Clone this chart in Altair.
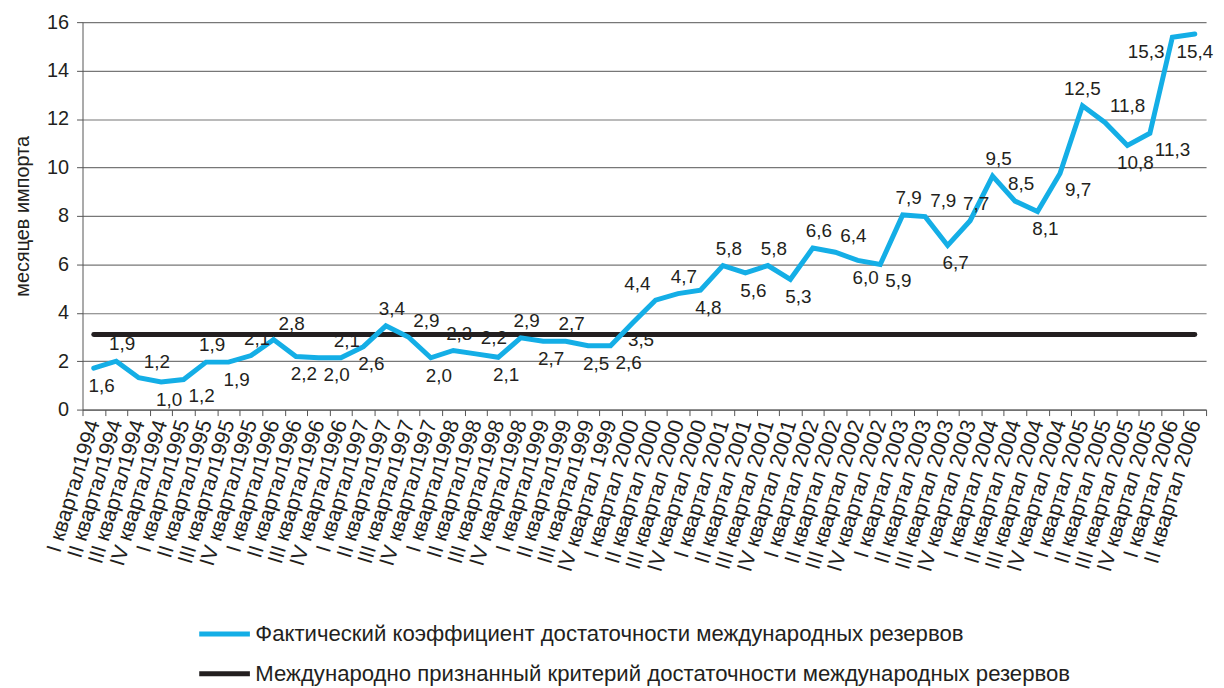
import altair as alt
import pandas as pd

quarters = [
    "I квартал1994", "II квартал1994", "III квартал1994", "IV квартал1994",
    "I квартал1995", "II квартал1995", "III квартал1995", "IV квартал1995",
    "I квартал1996", "II квартал1996", "III квартал1996", "IV квартал1996",
    "I квартал1997", "II квартал1997", "III квартал1997", "IV квартал1997",
    "I квартал1998", "II квартал1998", "III квартал1998", "IV квартал1998",
    "I квартал1999", "II квартал1999", "III квартал1999", "IV квартал 1999",
    "I квартал 2000", "II квартал 2000", "III квартал 2000", "IV квартал 2000",
    "I квартал 2001", "II квартал 2001", "III квартал 2001", "IV квартал 2001",
    "I квартал 2002", "II квартал 2002", "III квартал 2002", "IV квартал 2002",
    "I квартал 2003", "II квартал 2003", "III квартал 2003", "IV квартал 2003",
    "I квартал 2004", "II квартал 2004", "III квартал 2004", "IV квартал 2004",
    "I квартал 2005", "II квартал 2005", "III квартал 2005", "IV квартал 2005",
    "I квартал 2006", "II квартал 2006",
]

actual = [
    1.71, 2.00, 1.32, 1.14, 1.24, 1.96, 1.96, 2.23, 2.89, 2.19,
    2.14, 2.14, 2.60, 3.46, 3.00, 2.14, 2.44, 2.30, 2.16, 2.96,
    2.82, 2.82, 2.64, 2.64, 3.60, 4.52, 4.79, 4.93, 5.95, 5.65,
    5.95, 5.38, 6.67, 6.50, 6.16, 5.99, 8.04, 7.97, 6.78, 7.80,
    9.64, 8.61, 8.18, 9.75, 12.55, 11.86, 10.91, 11.41, 15.38, 15.51,
]

labels = [
    "1,6", "1,9", "1,2", "1,0", "1,2", "1,9", "1,9", "2,1", "2,8", "2,2",
    "2,0", "2,1", "2,6", "3,4", "2,9", "2,0", "2,3", "2,2", "2,1", "2,9",
    "2,7", "2,7", "2,5", "2,6", "3,5", "4,4", "4,7", "4,8", "5,8", "5,6",
    "5,8", "5,3", "6,6", "6,4", "6,0", "5,9", "7,9", "7,9", "6,7", "7,7",
    "9,5", "8,5", "8,1", "9,7", "12,5", "11,8", "10,8", "11,3", "15,3", "15,4",
]

# label placement relative to its point (u = above, d = below, r/l = shifted side)
label_pos = [
    "d", "u", "ur", "d", "r", "u", "d", "u", "ur", "d",
    "r", "u", "d", "u", "ur", "d", "u", "ur", "d", "u",
    "d", "u", "d", "r", "d", "ul", "u", "d", "u", "d",
    "u", "d", "u", "ur", "d", "r", "u", "ur", "d", "u",
    "u", "u", "d", "r", "uc", "ur", "d", "r", "l", "c",
]

criterion = [3.1] * len(quarters)

SERIES_A = "Фактический коэффициент достаточности международных резервов"
SERIES_B = "Международно признанный критерий достаточности международных резервов"
BLUE = "#14aee6"
DARK = "#231f20"
FONT = "Liberation Sans"

df_a = pd.DataFrame({"q": quarters, "v": actual, "lab": labels, "pos": label_pos, "s": SERIES_A})
df_b = pd.DataFrame({"q": quarters, "v": criterion, "s": SERIES_B})

x_enc = alt.X(
    "q:N",
    sort=quarters,
    scale=alt.Scale(type="band", paddingInner=0, paddingOuter=0),
    axis=alt.Axis(
        title=None,
        labelAngle=287,
        labelFontSize=21.5,
        labelColor=DARK,
        labelPadding=5,
        tickBand="extent",
        grid=False,
        tickSize=6,
        tickColor="#555",
        domainColor="#555",
        labelFont=FONT,
    ),
)

y_enc = alt.Y(
    "v:Q",
    scale=alt.Scale(domain=[0, 16], nice=False),
    axis=alt.Axis(
        title="месяцев импорта",
        titleFontSize=20,
        titleFontWeight="normal",
        titleColor=DARK,
        titleFont=FONT,
        titlePadding=14,
        values=[0, 2, 4, 6, 8, 10, 12, 14, 16],
        labelFontSize=20,
        labelColor=DARK,
        labelFont=FONT,
        labelPadding=8,
        tickSize=6,
        tickColor="#555",
        domainColor="#555",
        grid=True,
        gridColor="#777",
        gridWidth=1.2,
    ),
)

color_enc = alt.Color(
    "s:N",
    scale=alt.Scale(domain=[SERIES_A, SERIES_B], range=[BLUE, DARK]),
    legend=alt.Legend(
        title=None,
        orient="none",
        legendX=115,
        legendY=588,
        direction="vertical",
        symbolType="stroke",
        symbolSize=2601,
        symbolStrokeWidth=5,
        labelFontSize=22.3,
        labelFont=FONT,
        labelColor=DARK,
        labelOffset=3,
        labelLimit=0,
        rowPadding=-11,
    ),
)

crit_line = alt.Chart(df_b).mark_line(strokeWidth=5, strokeCap="round").encode(
    x=x_enc, y=y_enc, color=color_enc
)
act_line = alt.Chart(df_a).mark_line(strokeWidth=5, strokeCap="round").encode(
    x=x_enc, y=y_enc, color=color_enc
)

placements = {
    "u": (6, -17, "center"),
    "uc": (0, -17, "center"),
    "ur": (5, -16, "left"),
    "ul": (-5, -16, "right"),
    "d": (8, 18, "center"),
    "c": (0, 18, "center"),
    "r": (5, 17, "left"),
    "l": (-8, 15, "right"),
}

texts = [
    alt.Chart(df_a)
    .transform_filter(alt.datum.pos == key)
    .mark_text(fontSize=19, font=FONT, color=DARK, dx=dx, dy=dy, align=al, baseline="middle")
    .encode(x=x_enc, y=y_enc, text="lab:N")
    for key, (dx, dy, al) in placements.items()
]

chart = alt.layer(crit_line, act_line, *texts).properties(
    width=1131,
    height=390,
    autosize=alt.AutoSizeParams(type="none"),
    padding={"left": 75, "top": 12, "right": 10, "bottom": 278},
).configure_view(stroke=None)

chart.save("out.html", embed_options={"renderer": "svg", "actions": False})
